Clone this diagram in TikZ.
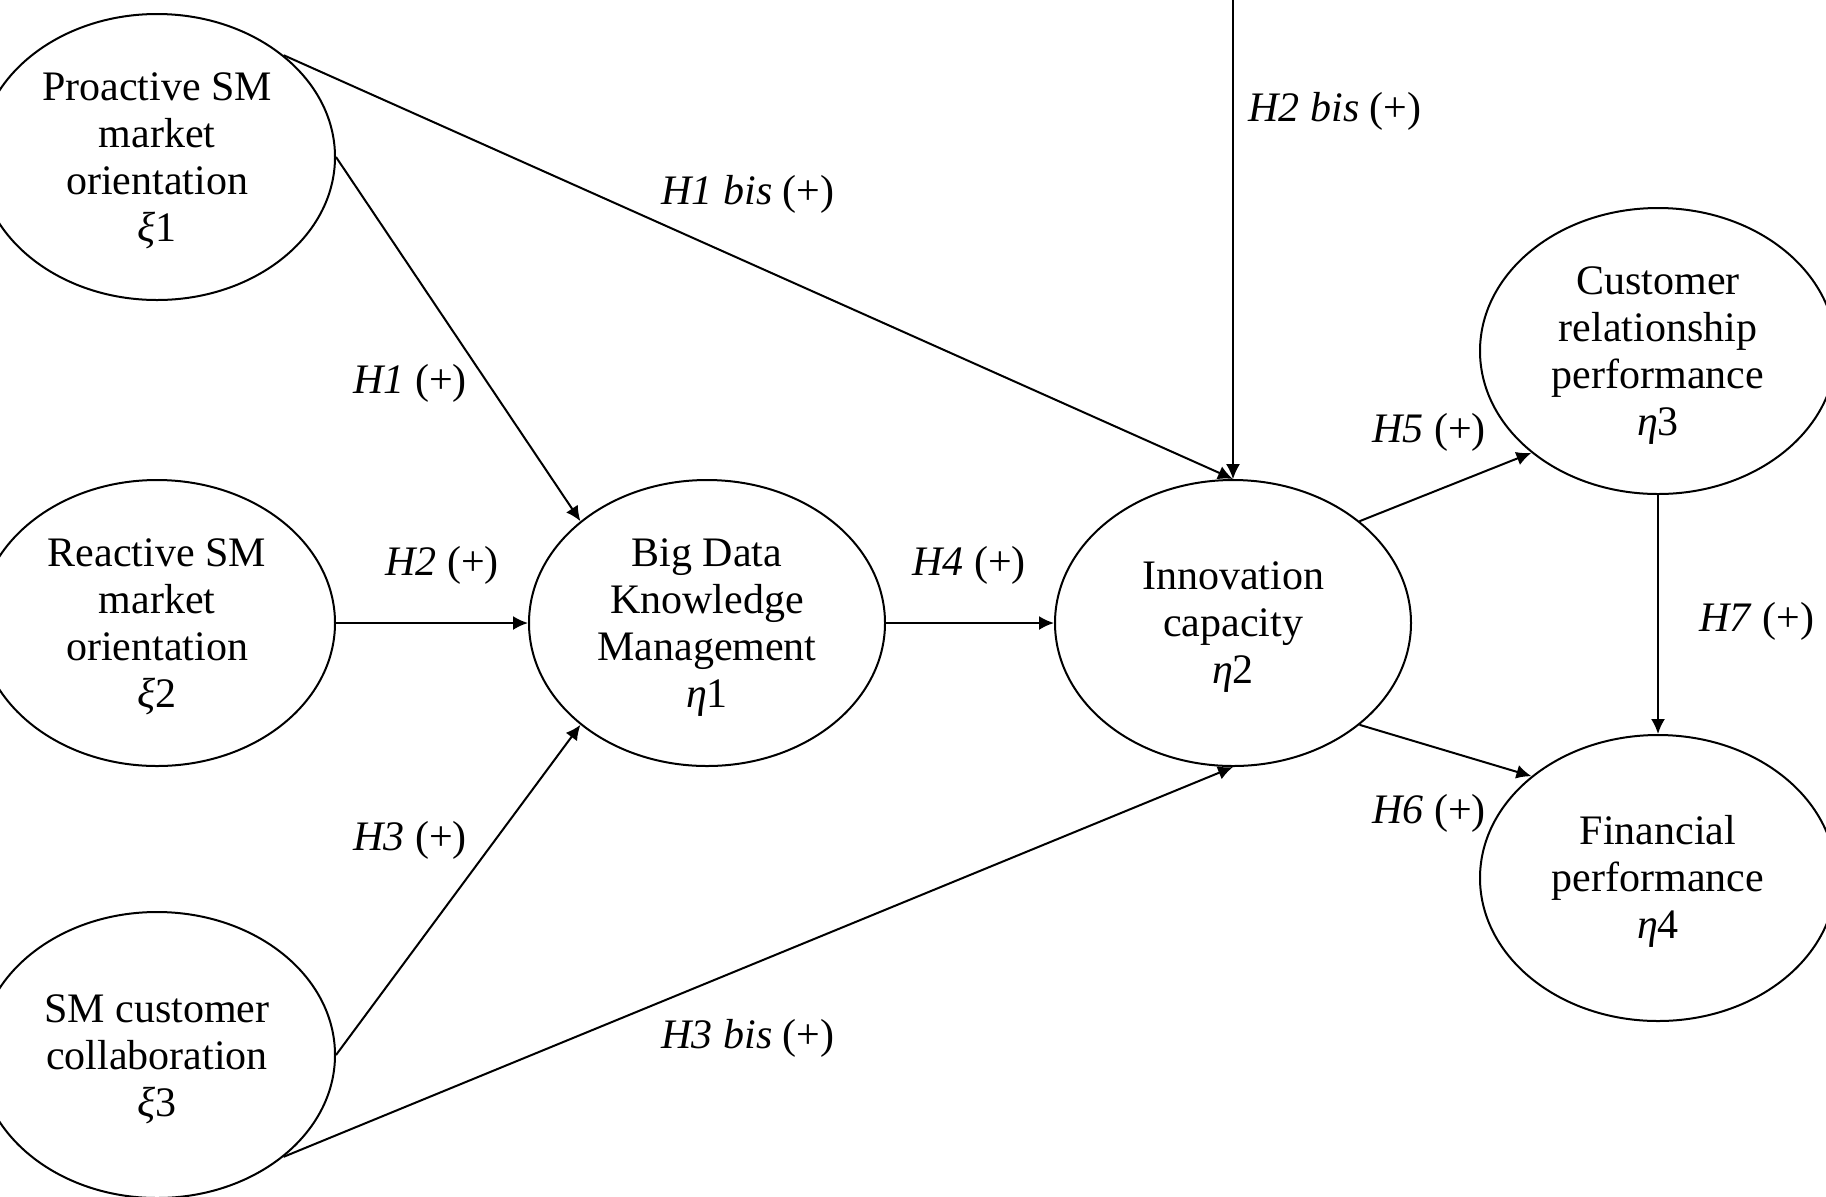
\documentclass[tikz,border=0pt]{standalone}
\usepackage{fontspec}
\setmainfont{Liberation Serif}
\usetikzlibrary{shapes.geometric,arrows.meta}
\newcommand{\tstrut}{\rule{0pt}{18pt}}
\begin{document}
\begin{tikzpicture}[x=0.5pt,y=-0.5pt,
  latent/.style={draw,ellipse,line width=1pt,minimum width=178pt,minimum height=143pt,
    inner sep=0pt,align=center,font=\fontsize{21}{23.5}\selectfont},
  lbl/.style={font=\fontsize{21}{23}\selectfont,inner sep=0pt},
  hyp/.style={draw,line width=1pt,-{Latex[length=7.5pt,width=7pt]}}]
\useasboundingbox (0,0) rectangle (1826,1196);
% constructs
\node[latent] (xi1) at (157,157) {\tstrut Proactive SM\\market\\orientation\\{\itshape ξ}1};
\node[latent] (xi2) at (157,623) {\tstrut Reactive SM\\market\\orientation\\{\itshape ξ}2};
\node[latent] (xi3) at (157,1055) {\tstrut SM customer\\collaboration\\{\itshape ξ}3};
\node[latent] (eta1) at (707,623) {\tstrut Big Data\\Knowledge\\Management\\{\itshape η}1};
\node[latent] (eta2) at (1233,623) {\tstrut Innovation\\capacity\\{\itshape η}2};
\node[latent] (eta3) at (1658,351) {\tstrut Customer\\relationship\\performance\\{\itshape η}3};
\node[latent] (eta4) at (1658,878) {\tstrut Financial\\performance\\{\itshape η}4};
\coordinate (topin) at (1233,0);
% paths
\draw[hyp] (xi1.east) -- (eta1.north west);
\draw[hyp] (xi1.north east) -- (eta2.north);
\draw[hyp] (xi2.east) -- (eta1.west);
\draw[hyp] (xi3.east) -- (eta1.south west);
\draw[hyp] (xi3.south east) -- (eta2.south);
\draw[hyp] (eta1.east) -- (eta2.west);
\draw[hyp,line width=0.7pt] (topin) -- (eta2.north);
\draw[hyp] (eta2.north east) -- (eta3.south west);
\draw[hyp] (eta2.south east) -- (eta4.north west);
\draw[hyp] (eta3.south) -- (eta4.north);
% labels
\node[lbl] (l1b) at (748,194) {\textit{H1 bis} (+)};
\node[lbl] (l1) at (410,383) {\textit{H1} (+)};
\node[lbl] (l2) at (442,565) {\textit{H2} (+)};
\node[lbl] (l3) at (410,840) {\textit{H3} (+)};
\node[lbl] (l3b) at (748,1038) {\textit{H3 bis} (+)};
\node[lbl] (l4) at (969,565) {\textit{H4} (+)};
\node[lbl] (l2b) at (1335,111) {\textit{H2 bis} (+)};
\node[lbl] (l5) at (1429,432) {\textit{H5} (+)};
\node[lbl] (l6) at (1429,813) {\textit{H6} (+)};
\node[lbl] (l7) at (1757,621) {\textit{H7} (+)};
\end{tikzpicture}
\end{document}
